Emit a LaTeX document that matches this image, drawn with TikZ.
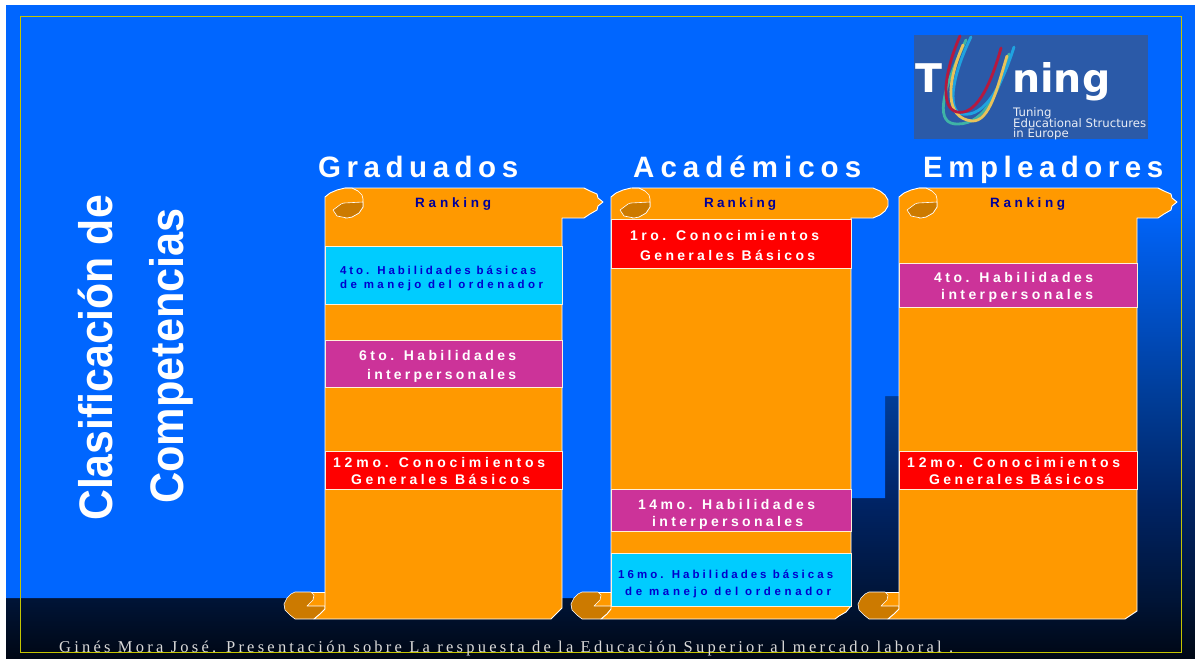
\documentclass[tikz,border=0pt]{standalone}
\usepackage{graphicx}
\usepackage{fontspec}
\setmainfont{Liberation Sans}
\newfontfamily\footfont{Liberation Serif}
\newfontfamily\logofont{DejaVu Sans}
\definecolor{slideblue}{HTML}{0066FF}
\definecolor{scrollorange}{HTML}{FF9900}
\definecolor{curl}{HTML}{CC7A00}
\definecolor{bandcyan}{HTML}{00CCFF}
\definecolor{bandmag}{HTML}{CC3399}
\definecolor{bandred}{HTML}{FF0000}
\definecolor{inkblue}{HTML}{0000CC}
\definecolor{rankblue}{HTML}{000099}
\definecolor{framecol}{HTML}{C4C400}
\definecolor{logobg}{HTML}{2B5AA8}
\definecolor{g0}{HTML}{000714}
\definecolor{g1}{HTML}{001436}
\definecolor{g2}{HTML}{002466}
\definecolor{g3}{HTML}{003C96}
\definecolor{g4}{HTML}{0050C8}
\definecolor{strandred}{HTML}{B5193F}
\definecolor{strandyellow}{HTML}{E8C25A}
\definecolor{strandteal}{HTML}{3FB3A6}
\definecolor{strandblue}{HTML}{1FA3E0}
\pgfdeclareverticalshading{slidebg}{100bp}{
 color(0bp)=(g0);
 color(25bp)=(g0);
 color(29.5bp)=(g1);
 color(37.2bp)=(g2);
 color(44.8bp)=(g3);
 color(52bp)=(g4);
 color(60bp)=(slideblue);
 color(100bp)=(slideblue)}
% text set to a target width by letter spacing (measured at 5 and at 10)
\newcommand\fitw[3]{{\fontsize{#1}{#1}\selectfont
 \setbox0\hbox{\addfontfeature{LetterSpace=5}#3}%
 \setbox2\hbox{\addfontfeature{LetterSpace=10}#3}%
 \pgfmathsetmacro\lsval{5+5*(#2-\the\wd0/1pt)/((\the\wd2-\the\wd0)/1pt)}%
 \edef\lsexp{\noexpand\addfontfeature{LetterSpace=\lsval}}\lsexp #3}}
\tikzset{
 scroll/.style={fill=scrollorange,draw=white,line width=0.9pt,line join=round},
 curlpart/.style={fill=curl,draw=white,line width=0.6pt,line join=round},
 knobline/.style={draw=white,line width=0.7pt,line join=round},
 band/.style={draw=white!85!scrollorange,line width=0.9pt,inner sep=0pt,outer sep=0pt},
 wtxt/.style={anchor=base west,inner sep=0pt,text=white,font=\bfseries},
 btxt/.style={anchor=base west,inner sep=0pt,text=inkblue,font=\bfseries},
 rtxt/.style={anchor=base west,inner sep=0pt,text=rankblue,font=\bfseries},
 logostrand/.style={line width=2.8pt,line cap=round},
 logosmall/.style={anchor=base west,inner sep=0pt,text=white!90!logobg,font=\logofont\fontsize{11.7}{11.7}\selectfont},
 logobig/.style={anchor=base west,inner sep=0pt,text=white,font=\logofont\bfseries\fontsize{39.5}{39.5}\selectfont}
}
\newcommand\bandnode[6]{% name x1 y1 x2 y2 colour
 \pgfmathsetmacro\bw{#4-#2}\pgfmathsetmacro\bh{#5-#3}%
 \pgfmathsetmacro\bx{(#4+#2)/2}\pgfmathsetmacro\by{(#5+#3)/2}%
 \node[band,fill=#6,minimum width=\bw pt,minimum height=\bh pt] (#1) at (\bx,\by) {};}
\newcommand\knob[1]{\begin{scope}[xshift=#1pt]
 \path[knobline] (345,188) -- (352,188) -- (358,191) -- (362,195) -- (363,199) -- (363,207) -- (359,213) -- (352,217) -- (345,218);
 \path[curlpart] (333,210) -- (337,207) -- (341,204) -- (344,203) -- (363,202) -- (363,207) -- (359,213) -- (352,217) -- (347,218) -- (342,217) -- (337,216) -- (335,213) -- cycle;
 \end{scope}}
\newcommand\tail[1]{\begin{scope}[xshift=#1pt]
 \path[scroll] (300,592) -- (325,592) -- (325,606) -- (300,606) -- cycle;
 \path[curlpart] (295,592) -- (311,592) -- (314,595) -- (313,600) -- (309,604) -- (307,606) -- (325,606) -- (325,609) -- (320,614) -- (314,619) -- (295,619) -- (290,615) -- (285,610) -- (284,604) -- (287,598) -- (291,594) -- cycle;
 \end{scope}}
\begin{document}
\begin{tikzpicture}[x=1pt,y=-1pt]
\useasboundingbox (0,0) rectangle (1195,659);
\fill[white] (0,0) rectangle (1195,659);
% slide background
\shade[shading=slidebg] (6,5) rectangle (1195,659);
\fill[slideblue] (6,5) -- (1110,5) -- (1110,300) -- (899,396) -- (885,396) -- (885,498) -- (851,498) -- (851,598) -- (6,598) -- cycle;
\draw[framecol,line width=1pt] (20.5,16.5) rectangle (1181.5,652.5);

% logo
\fill[logobg] (914,35) rectangle (1148,139);
\node[logobig] (logoT) at (915,92) {T};
\node[logobig] (logoN) at (1012,92) {ning};
\draw[logostrand,color=strandteal] (966,40) .. controls (940,95) and (935,125) .. (958,124) .. controls (985,124) and (1000,90) .. (1009,54);
\draw[logostrand,color=strandblue] (971,37) .. controls (950,80) and (948,112) .. (962,114) .. controls (985,118) and (1002,85) .. (1014,47);
\draw[logostrand,color=strandyellow] (963,45) .. controls (946,85) and (945,118) .. (972,121) .. controls (990,122) and (998,85) .. (1007,56);
\draw[logostrand,color=strandred] (960,36) .. controls (945,70) and (939,108) .. (957,112) .. controls (975,116) and (990,88) .. (1001,48);
\node[logosmall] (logoA) at (1013,116) {Tuning};
\node[logosmall] (logoB) at (1013,127) {Educational Structures};
\node[logosmall] (logoC) at (1013,137) {in Europe};

% headers
\node[wtxt] (hA) at (318,177) {\fitw{29.5}{200}{Graduados}};
\node[wtxt] (hB) at (633,177) {\fitw{29.5}{228}{Académicos}};
\node[wtxt] (hC) at (923,177) {\fitw{29.5}{240}{Empleadores}};

% side title
\node[wtxt,rotate=90] (tA) at (112,521) {\scalebox{.91}[1]{\fontsize{47}{47}\selectfont Clasificación de}};
\node[wtxt,rotate=90] (tB) at (183,504) {\scalebox{.92}[1]{\fontsize{47}{47}\selectfont Competencias}};

% column 1
\tail{0}
\path[scroll] (325,197) -- (330,193) -- (337,190) -- (345,188) -- (584,188) -- (590,191) -- (597,194) -- (598,198) -- (603,202) -- (598,206) -- (597,210) -- (590,214) -- (584,218) -- (562,218) -- (562,608) -- (551,619) -- (314,619) -- (320,614) -- (325,609) -- cycle;
\knob{0}
\node[rtxt] (rA) at (415,207) {\fitw{13.5}{76}{Ranking}};
\bandnode{a1}{325}{246}{562}{304}{bandcyan}
\bandnode{a2}{325}{340}{562}{387}{bandmag}
\bandnode{a3}{325}{451}{562}{489}{bandred}
\node[btxt] (a1x) at (340,274) {\fitw{11.5}{196}{4to. Habilidades básicas}};
\node[btxt] (a1y) at (340,288) {\fitw{11.5}{203}{de manejo del ordenador}};
\node[wtxt] (a2x) at (359,360) {\fitw{14}{157}{6to. Habilidades}};
\node[wtxt] (a2y) at (367,379) {\fitw{14}{149}{interpersonales}};
\node[wtxt] (a3x) at (333,467) {\fitw{14}{212}{12mo. Conocimientos}};
\node[wtxt] (a3y) at (351,484) {\fitw{14}{179}{Generales Básicos}};

% column 2
\tail{287}
\path[scroll] (611,197) -- (616,193) -- (623,190) -- (631,188) -- (873,188) -- (880,191) -- (885,195) -- (888,200) -- (888,206) -- (885,211) -- (880,215) -- (873,218) -- (851,218) -- (851,606) -- (846,612) -- (839,616) -- (835,619) -- (601,619) -- (607,614) -- (611,609) -- cycle;
\knob{287}
\node[rtxt] (rB) at (704,207) {\fitw{13.5}{72}{Ranking}};
\bandnode{b1}{611}{219}{851}{268}{bandred}
\bandnode{b2}{611}{489}{851}{531}{bandmag}
\bandnode{b3}{611}{553}{851}{606}{bandcyan}
\node[wtxt] (b1x) at (630,240) {\fitw{14}{189}{1ro. Conocimientos}};
\node[wtxt] (b1y) at (640,260) {\fitw{14}{175}{Generales Básicos}};
\node[wtxt] (b2x) at (638,509) {\fitw{14}{177}{14mo. Habilidades}};
\node[wtxt] (b2y) at (652,526) {\fitw{14}{151}{interpersonales}};
\node[btxt] (b3x) at (618,578) {\fitw{11.5}{215}{16mo. Habilidades básicas}};
\node[btxt] (b3y) at (625,595) {\fitw{11.5}{206}{de manejo del ordenador}};

% column 3
\tail{574}
\path[scroll] (899,197) -- (904,193) -- (911,190) -- (919,188) -- (1158,188) -- (1164,191) -- (1171,194) -- (1172,198) -- (1177,202) -- (1172,206) -- (1171,210) -- (1164,214) -- (1158,218) -- (1137,218) -- (1137,611) -- (1125,619) -- (888,619) -- (894,614) -- (899,609) -- cycle;
\knob{574}
\node[rtxt] (rC) at (990,207) {\fitw{13.5}{75}{Ranking}};
\bandnode{c1}{899}{263}{1137}{307}{bandmag}
\bandnode{c2}{899}{451}{1137}{489}{bandred}
\node[wtxt] (c1x) at (934,282) {\fitw{14}{159}{4to. Habilidades}};
\node[wtxt] (c1y) at (941,299) {\fitw{14}{152}{interpersonales}};
\node[wtxt] (c2x) at (907,467) {\fitw{14}{213}{12mo. Conocimientos}};
\node[wtxt] (c2y) at (929,484) {\fitw{14}{175}{Generales Básicos}};

% footer
\node[anchor=base west,inner sep=0pt,text=white!85!black] (foot) at (59,652.5) {\footfont\fitw{16.5}{894}{Ginés Mora José. Presentación sobre La respuesta de la Educación Superior al mercado laboral .}};
\end{tikzpicture}
\end{document}
